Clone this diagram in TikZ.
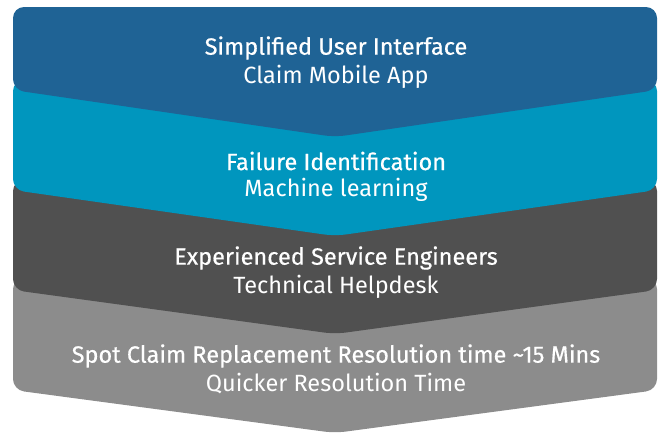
\documentclass[tikz,border=0pt]{standalone}
\usepackage{fontspec}
\setmainfont{Fira Sans}
\newfontfamily\ttlfont[FakeBold=0.5]{Fira Sans}
\definecolor{cA}{RGB}{31,99,149}
\definecolor{cB}{RGB}{0,150,190}
\definecolor{cC}{RGB}{80,80,80}
\definecolor{cD}{RGB}{140,140,140}
\begin{document}
\begin{tikzpicture}[x=1pt,y=-1pt,
  chev/.style={rounded corners=11pt},
  ttl/.style={text=white,font=\ttlfont\fontsize{23.5}{26}\selectfont,inner sep=0pt,anchor=center},
  sub/.style={text=white,font=\fontsize{23.5}{26}\selectfont,inner sep=0pt,anchor=center}]
\useasboundingbox (0,0) rectangle (667,432);
\newcommand{\chevshape}[4]{%
  \fill[#4,chev] (335,#1) -- (657,#1) -- (657,#2) -- (335,#3) -- (13,#2) -- (13,#1) -- cycle;}
\chevshape{278}{390}{433}{cD}
\chevshape{180}{290}{334}{cC}
\chevshape{80}{190}{236}{cB}
\chevshape{7}{90}{137}{cA}
\node[ttl] (t1) at (336,48) {Simplified User Interface};
\node[sub] (s1) at (336,77) {Claim Mobile App};
\node[ttl] (t2) at (336,161) {Failure Identification};
\node[sub] (s2) at (336,190) {Machine learning};
\node[ttl] (t3) at (336,258) {Experienced Service Engineers};
\node[sub] (s3) at (336,287) {Technical Helpdesk};
\node[ttl] (t4) at (336,356) {Spot Claim Replacement Resolution time \textasciitilde15 Mins};
\node[sub] (s4) at (336,384) {Quicker Resolution Time};
\end{tikzpicture}
\end{document}
